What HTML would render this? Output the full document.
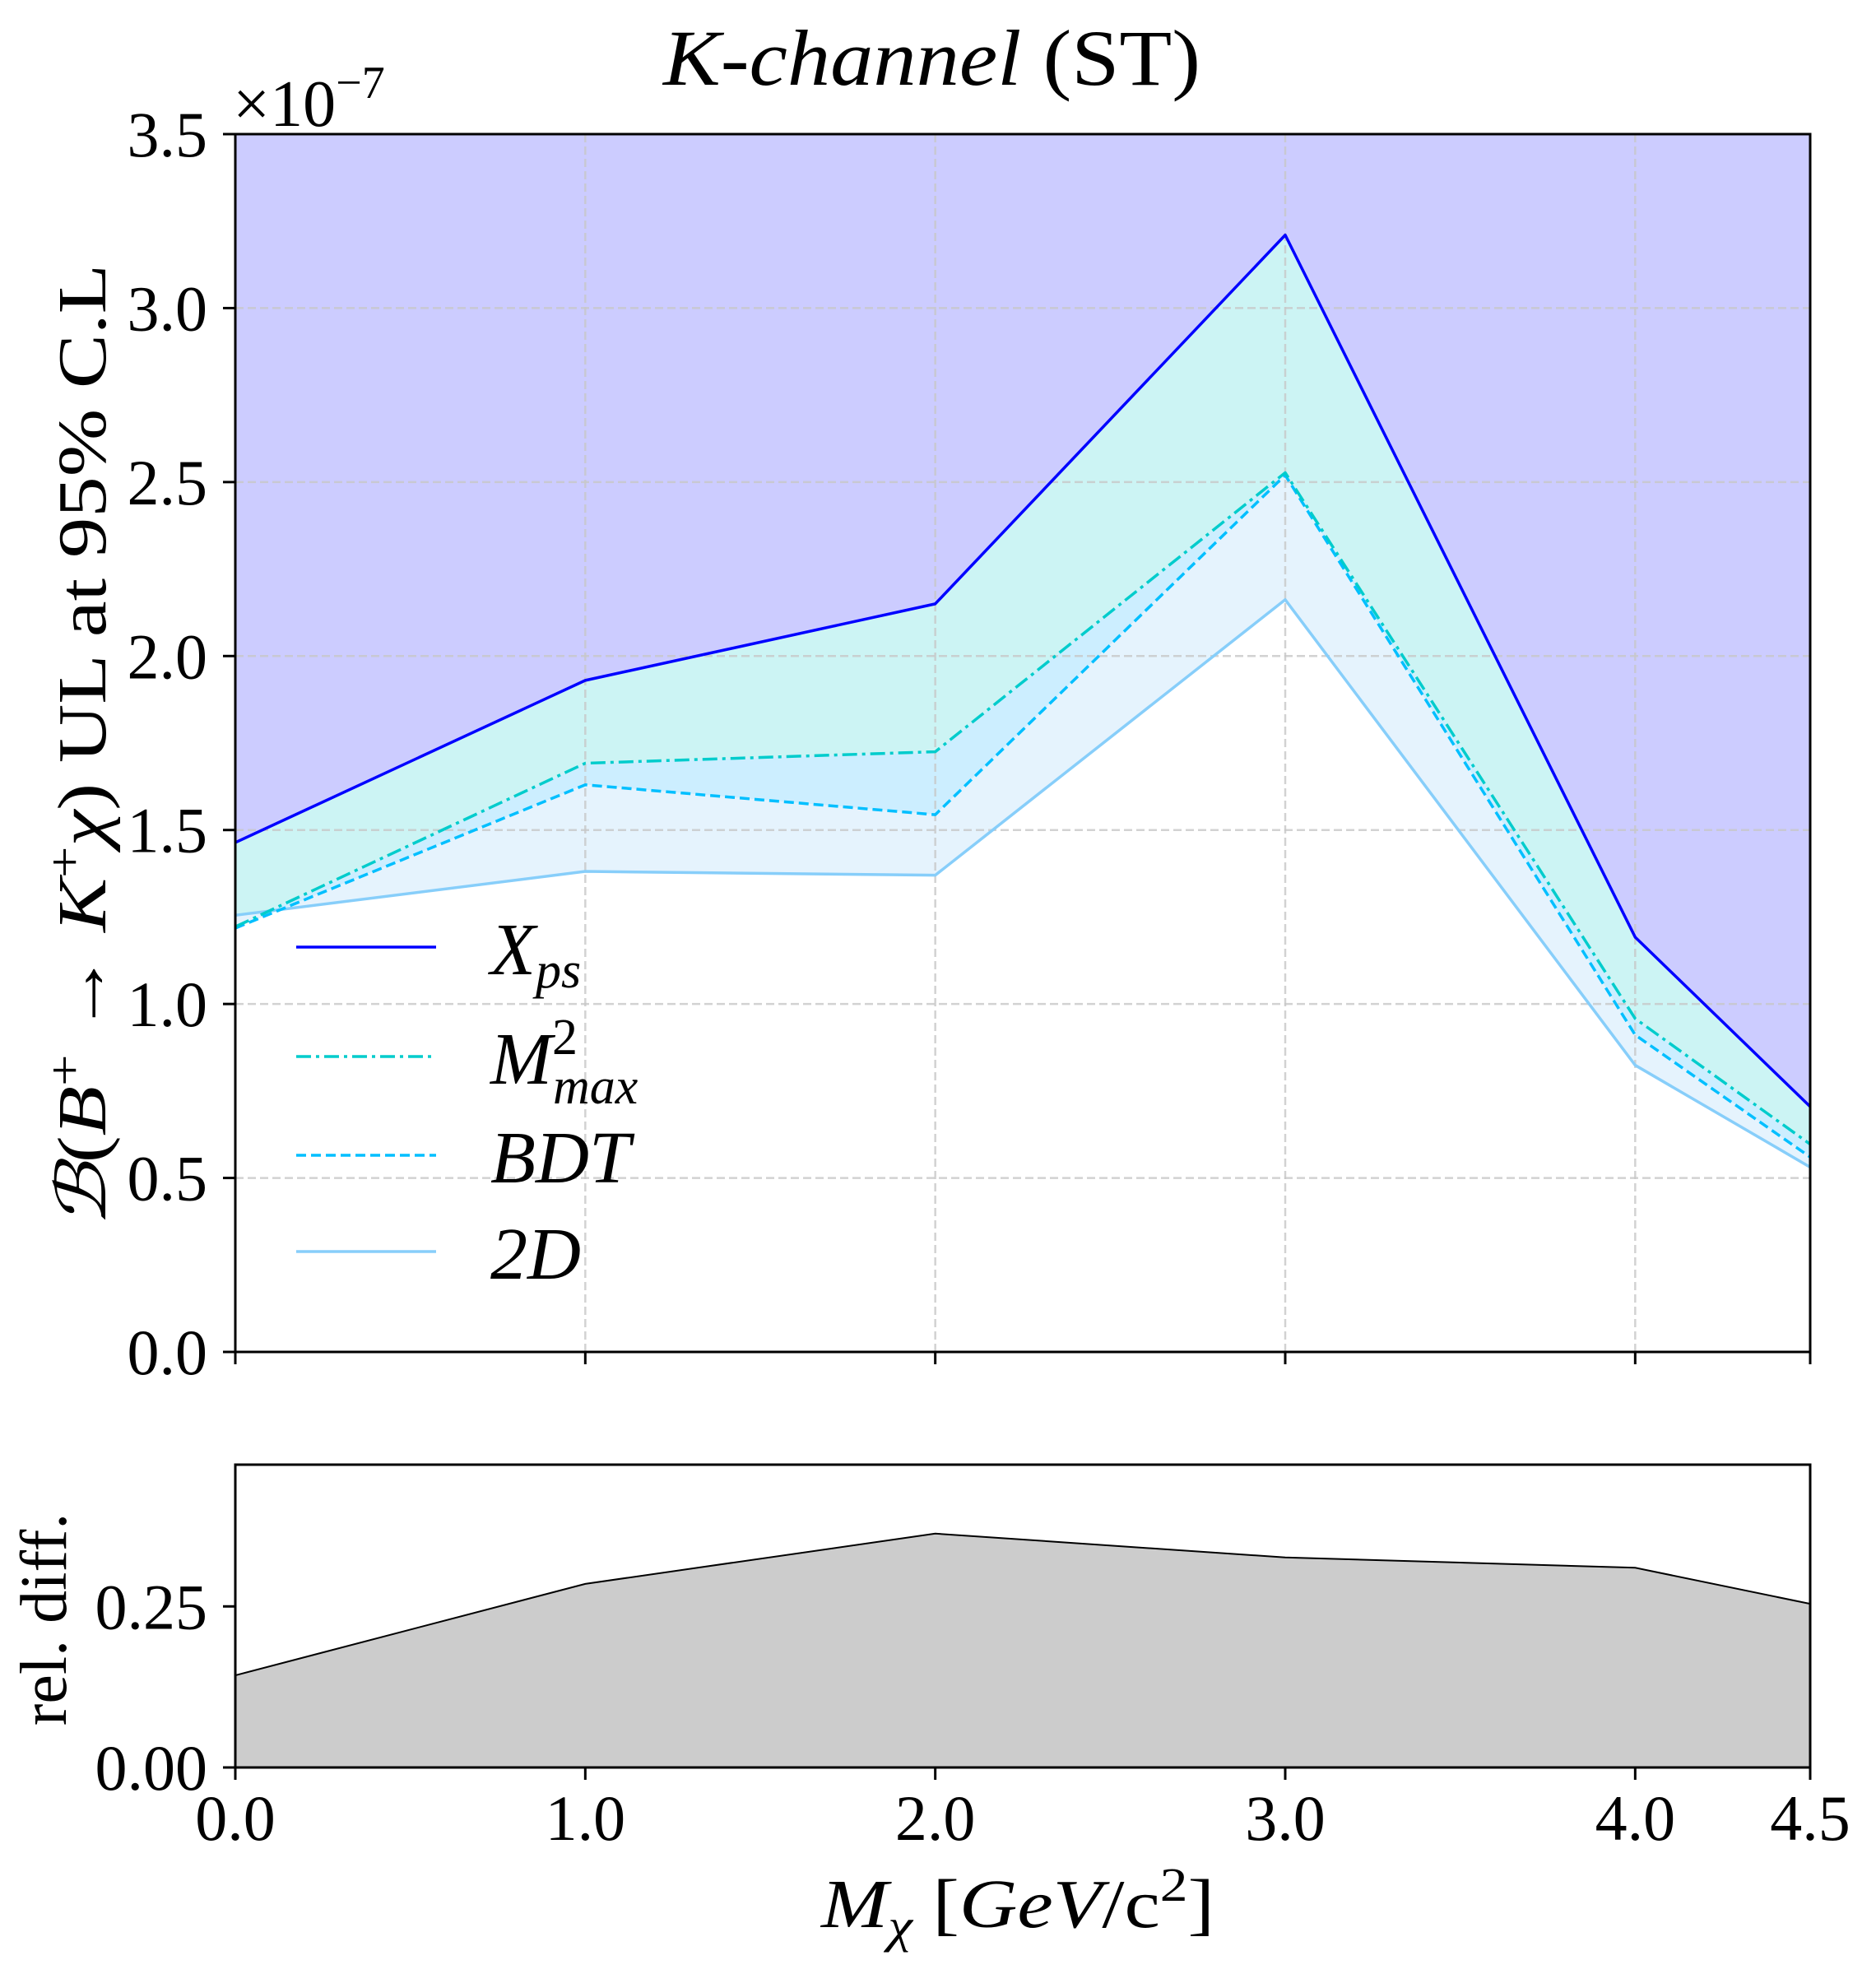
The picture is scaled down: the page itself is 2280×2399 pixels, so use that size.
<!DOCTYPE html>
<html><head><meta charset="utf-8"><style>
html,body{margin:0;padding:0;background:#fff;}
svg{display:block;font-family:"Liberation Serif",serif;}
</style></head><body>
<svg id="chart" width="2280" height="2399" viewBox="0 0 2280 2399" xmlns="http://www.w3.org/2000/svg">
<g id="main"></g>
<g id="lower"></g>
<text x="806" y="103" font-size="96" textLength="653" lengthAdjust="spacingAndGlyphs"><tspan font-style="italic">K-channel</tspan> (ST)</text>
<text x="283" y="153" font-size="80">×10<tspan dy="-34" font-size="56">−7</tspan></text>
<text transform="translate(128,906) rotate(-90)" text-anchor="middle" font-size="84" textLength="1170" lengthAdjust="spacingAndGlyphs"><tspan font-style="italic">ℬ</tspan>(<tspan font-style="italic">B</tspan><tspan dy="-30" font-size="58">+</tspan><tspan dy="30"> → </tspan><tspan font-style="italic">K</tspan><tspan dy="-30" font-size="58">+</tspan><tspan dy="30" font-style="italic">χ</tspan>) UL at 95% C.L</text>
<text transform="translate(80,1968) rotate(-90)" text-anchor="middle" font-size="80">rel. diff.</text>
<text x="998" y="2342" font-size="84" textLength="478" lengthAdjust="spacingAndGlyphs"><tspan font-style="italic">M</tspan><tspan font-style="italic" font-size="58" dy="18">χ</tspan><tspan dy="-18"> [</tspan><tspan font-style="italic">GeV</tspan>/c<tspan dy="-32" font-size="58">2</tspan><tspan dy="32">]</tspan></text>
</svg>
<script>
const xs = [0, 1, 2, 3, 4, 4.5];
const xps = [1.464, 1.93, 2.15, 3.21, 1.192, 0.705];
const mmax = [1.222, 1.692, 1.725, 2.527, 0.958, 0.597];
const bdt = [1.218, 1.63, 1.544, 2.52, 0.911, 0.56];
const twoD = [1.255, 1.381, 1.37, 2.162, 0.824, 0.531];
const relDiff = [0.143, 0.285, 0.363, 0.326, 0.31, 0.254];
const xTicks = [0, 1, 2, 3, 4, 4.5];
const xTickLabels = ["0.0", "1.0", "2.0", "3.0", "4.0", "4.5"];
const yTicks = [0, 0.5, 1, 1.5, 2, 2.5, 3, 3.5];
const yTickLabels = ["0.0", "0.5", "1.0", "1.5", "2.0", "2.5", "3.0", "3.5"];
const lowerTicks = [0, 0.25];
const lowerTickLabels = ["0.00", "0.25"];

const NS = "http://www.w3.org/2000/svg";
const L = 286, R = 2200, T = 163, B = 1643, LT = 1780, LB = 2148;
const X = v => L + (v - 0) / 4.5 * (R - L);
const Y = v => B - v / 3.5 * (B - T);
const LY = v => LB - v / 0.47 * (LB - LT);
function mk(tag, attrs, parent) {
  const e = document.createElementNS(NS, tag);
  for (const k in attrs) e.setAttribute(k, attrs[k]);
  parent.appendChild(e);
  return e;
}
const main = document.getElementById('main');
const lower = document.getElementById('lower');
const pts = (arr, f) => arr.map((v, i) => X(xs[i]) + ',' + f(v)).join(' ');
const rev = (arr, f) => arr.map((v, i) => X(xs[i]) + ',' + f(v)).reverse().join(' ');

let p;
p = mk('polygon', {points: pts(xps, Y) + ' ' + X(4.5) + ',' + T + ' ' + X(0) + ',' + T, fill: '#ccccff'}, main);


p = mk('polygon', {points: pts(xps, Y) + ' ' + rev(mmax, Y), fill: '#ccf4f4'}, main);


p = mk('polygon', {points: pts(mmax, Y) + ' ' + rev(bdt, Y), fill: '#cceeff'}, main);


p = mk('polygon', {points: pts(bdt, Y) + ' ' + rev(twoD, Y), fill: '#e5f3fd'}, main);



xTicks.forEach((t, i) => {
  if (t > 0 && t < 4.5) {
    const g = mk('line', {x1: X(t), x2: X(t), y1: T, y2: B, stroke: '#c8c8c8', 'stroke-width': 2.5, 'stroke-dasharray': '10,5', opacity: 0.8}, main);
    
    
  }
});
yTicks.forEach(t => {
  if (t > 0 && t < 3.5) {
    const g = mk('line', {x1: L, x2: R, y1: Y(t), y2: Y(t), stroke: '#c8c8c8', 'stroke-width': 2.5, 'stroke-dasharray': '10,5', opacity: 0.8}, main);
    
    
  }
});

const series = [
  {d: twoD, c: '#87cefa', dash: '', name: '2d-line'},
  {d: bdt, c: '#00bfff', dash: '12,6', name: 'bdt-line'},
  {d: mmax, c: '#00cccc', dash: '18,6,4,6', name: 'mmax-line'},
  {d: xps, c: '#0000ff', dash: '', name: 'xps-line'}
];
series.forEach(s => {
  const l = mk('polyline', {points: pts(s.d, Y), fill: 'none', stroke: s.c, 'stroke-width': 3.5, 'stroke-dasharray': s.dash, 'stroke-linejoin': 'round'}, main);
  
  
});

let f = mk('rect', {x: L, y: T, width: R - L, height: B - T, fill: 'none', stroke: '#000', 'stroke-width': 3}, main);



xTicks.forEach((t, i) => {
  const k = mk('line', {x1: X(t), x2: X(t), y1: B, y2: B + 15, stroke: '#000', 'stroke-width': 3}, main);
  
  
});
yTicks.forEach((t, i) => {
  const k = mk('line', {x1: L - 15, x2: L, y1: Y(t), y2: Y(t), stroke: '#000', 'stroke-width': 3}, main);
  
  
  const tx = mk('text', {x: 252, y: Y(t) + 27, 'text-anchor': 'end', 'font-size': 78}, main);
  tx.textContent = yTickLabels[i];
  
  
});

const leg = [
  {c: '#0000ff', dash: '', label: 'X', sub: 'ps', sup: '', y: 1151},
  {c: '#00cccc', dash: '18,6,4,6', label: 'M', sub: 'max', sup: '2', y: 1284},
  {c: '#00bfff', dash: '12,6', label: 'BDT', sub: '', sup: '', y: 1404},
  {c: '#87cefa', dash: '', label: '2D', sub: '', sup: '', y: 1521}
];
leg.forEach(e => {
  const g = mk('g', {}, main);
  
  
  mk('line', {x1: 360, x2: 530, y1: e.y, y2: e.y, stroke: e.c, 'stroke-width': 3.5, 'stroke-dasharray': e.dash}, g);
  const t = mk('text', {x: 596, y: e.y + 33, 'font-size': 90, 'font-style': 'italic'}, g);
  t.textContent = e.label;
  if (e.sup) { const s = mk('tspan', {dy: -36, 'font-size': 62, 'font-style': 'normal'}, t); s.textContent = e.sup; }
  if (e.sub) {
    const s = mk('tspan', {dx: e.sup ? -30 : 0, dy: e.sup ? 60 : 16, 'font-size': 62}, t); s.textContent = e.sub;
  }
});

const lp = xs.map((x, i) => X(x) + ',' + LY(relDiff[i])).join(' ');
let a = mk('polygon', {points: lp + ' ' + X(4.5) + ',' + LB + ' ' + X(0) + ',' + LB, fill: '#cccccc'}, lower);


a = mk('polyline', {points: lp, fill: 'none', stroke: '#000', 'stroke-width': 2}, lower);


f = mk('rect', {x: L, y: LT, width: R - L, height: LB - LT, fill: 'none', stroke: '#000', 'stroke-width': 3}, lower);


xTicks.forEach((t, i) => {
  const k = mk('line', {x1: X(t), x2: X(t), y1: LB, y2: LB + 15, stroke: '#000', 'stroke-width': 3}, lower);
  
  
  const tx = mk('text', {x: X(t), y: 2236, 'text-anchor': 'middle', 'font-size': 78}, lower);
  tx.textContent = xTickLabels[i];
  
  
});
lowerTicks.forEach((t, i) => {
  const k = mk('line', {x1: L - 15, x2: L, y1: LY(t), y2: LY(t), stroke: '#000', 'stroke-width': 3}, lower);
  
  
  const tx = mk('text', {x: 252, y: LY(t) + 27, 'text-anchor': 'end', 'font-size': 78}, lower);
  tx.textContent = lowerTickLabels[i];
  
  
});
</script>
</body></html>
